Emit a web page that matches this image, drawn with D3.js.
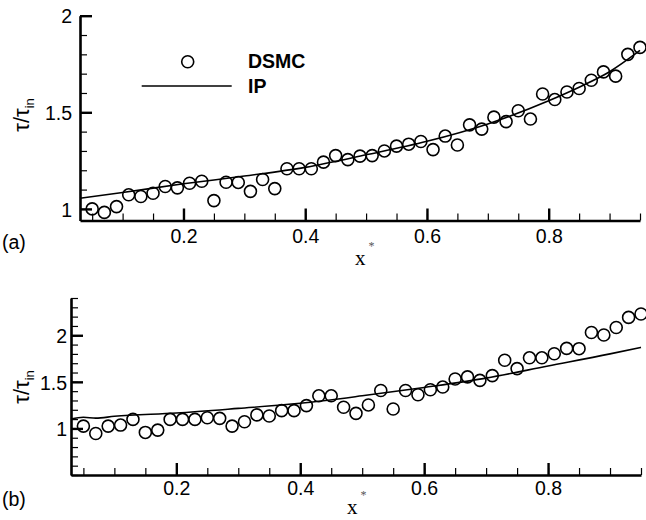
<!DOCTYPE html>
<html>
<head>
<meta charset="utf-8">
<script src="https://cdn.jsdelivr.net/npm/d3@7/dist/d3.min.js"></script>
<style>
  html, body { margin: 0; padding: 0; background: #fff; }
  svg { display: block; }
  text { fill: #000; }
</style>
</head>
<body>
<svg id="chart" width="646" height="520"></svg>
<script>
// ---------- data ----------
const xDSMC = [0.05,0.07,0.09,0.11,0.13,0.15,0.17,0.19,0.21,0.23,0.25,0.27,0.29,0.31,0.33,0.35,
  0.37,0.39,0.41,0.43,0.45,0.47,0.49,0.51,0.53,0.55,0.57,0.59,0.61,0.63,0.65,0.67,0.69,0.71,
  0.73,0.75,0.77,0.79,0.81,0.83,0.85,0.87,0.89,0.91,0.93,0.95];
const dsmcA = [1.00,0.982,1.012,1.073,1.064,1.081,1.116,1.109,1.133,1.143,1.043,1.138,1.137,1.091,1.152,1.105,
  1.208,1.208,1.208,1.242,1.276,1.255,1.273,1.276,1.300,1.325,1.335,1.349,1.307,1.377,1.331,1.435,1.413,1.475,
  1.452,1.508,1.465,1.595,1.566,1.605,1.623,1.666,1.709,1.687,1.800,1.836];
const dsmcB = [1.025,0.946,1.025,1.036,1.097,0.957,0.982,1.097,1.097,1.097,1.115,1.108,1.025,1.072,1.145,1.133,
  1.191,1.191,1.245,1.350,1.350,1.227,1.162,1.252,1.407,1.209,1.407,1.361,1.415,1.444,1.531,1.553,1.516,1.567,
  1.732,1.642,1.758,1.758,1.802,1.859,1.856,2.030,2.003,2.083,2.192,2.228];
const xIPA = [0.03,0.10,0.20,0.30,0.40,0.50,0.60,0.70,0.80,0.85,0.90,0.95];
const ipA  = [1.055,1.085,1.13,1.17,1.215,1.28,1.35,1.44,1.56,1.63,1.71,1.82];
const xIPB = [0.03,0.05,0.07,0.10,0.20,0.30,0.40,0.50,0.60,0.70,0.80,0.90,0.95];
const ipB  = [1.10,1.12,1.11,1.13,1.165,1.215,1.27,1.35,1.44,1.54,1.67,1.80,1.87];
const xMajorTicks = [0.2,0.4,0.6,0.8];
const xMinorTicks = [0.05,0.1,0.15,0.2,0.25,0.3,0.35,0.4,0.45,0.5,0.55,0.6,0.65,0.7,0.75,0.8,0.85,0.9,0.95];
const yMajorA = [1,1.5,2];
const yMinorA = [1.0,1.1,1.2,1.3,1.4,1.5,1.6,1.7,1.8,1.9,2.0];
const yMajorB = [1,1.5,2];
const yMinorB = [0.5,0.6,0.7,0.8,0.9,1.0,1.1,1.2,1.3,1.4,1.5,1.6,1.7,1.8,1.9,2.0,2.1,2.2,2.3,2.4];
const legendLabels = ["DSMC","IP"];
const panelLabels = ["(a)","(b)"];

// ---------- drawing ----------
const svg = d3.select("#chart");
const sansFont = "'Liberation Sans', Arial, Helvetica, sans-serif";

const panels = [
  { x0:80, x1:640, yTop:15.7, yBot:220.5, yDomain:[0.94,2.0], dsmc:dsmcA, ipX:xIPA, ip:ipA,
    yMajor:yMajorA, yMinor:yMinorA, yPad:8, xPad:9, ylabY:115, xlabX:355, xlabY:265,
    plabY:249, label:panelLabels[0], legend:true },
  { x0:71, x1:641, yTop:298, yBot:475, yDomain:[0.5,2.4], dsmc:dsmcB, ipX:xIPB, ip:ipB,
    yMajor:yMajorB, yMinor:yMinorB, yPad:4, xPad:6.5, ylabY:387, xlabX:347, xlabY:514,
    plabY:506, label:panelLabels[1], legend:false }
];

panels.forEach(p => {
  const x = d3.scaleLinear().domain([0.03,0.95]).range([p.x0,p.x1]);
  const y = d3.scaleLinear().domain(p.yDomain).range([p.yBot,p.yTop]);
  const g = svg.append("g");

  // minor ticks
  g.append("g").attr("transform",`translate(0,${p.yBot})`)
    .call(d3.axisBottom(x).tickValues(xMinorTicks).tickSize(-7).tickSizeOuter(0).tickFormat(""))
    .call(a => { a.select(".domain").remove(); a.selectAll("line").attr("stroke","#000").attr("stroke-width",1.2); });
  g.append("g").attr("transform",`translate(${p.x0},0)`)
    .call(d3.axisLeft(y).tickValues(p.yMinor).tickSize(-7).tickSizeOuter(0).tickFormat(""))
    .call(a => { a.select(".domain").remove(); a.selectAll("line").attr("stroke","#000").attr("stroke-width",1.2); });

  // major ticks + labels
  const xa = g.append("g").attr("transform",`translate(0,${p.yBot})`)
    .call(d3.axisBottom(x).tickValues(xMajorTicks).tickSize(-12).tickSizeOuter(0).tickPadding(p.xPad).tickFormat(d3.format(".1f")));
  xa.select(".domain").attr("stroke","#000").attr("stroke-width",2.6);
  xa.selectAll("line").attr("stroke","#000").attr("stroke-width",2.4);
  xa.selectAll("text").attr("font-family",sansFont).attr("font-size",19.5).attr("fill","#000");

  const ya = g.append("g").attr("transform",`translate(${p.x0},0)`)
    .call(d3.axisLeft(y).tickValues(p.yMajor).tickSize(-12).tickSizeOuter(0).tickPadding(p.yPad).tickFormat(d => d3.format("~g")(d)));
  ya.select(".domain").attr("stroke","#000").attr("stroke-width",2.6);
  ya.selectAll("line").attr("stroke","#000").attr("stroke-width",2.4);
  ya.selectAll("text").attr("font-family",sansFont).attr("font-size",19.5).attr("fill","#000").attr("dy","0.37em");

  // IP line
  const line = d3.line().x(d => x(d[0])).y(d => y(d[1])).curve(d3.curveMonotoneX);
  g.append("path").datum(p.ipX.map((v,i) => [v,p.ip[i]]))
    .attr("d",line).attr("fill","none").attr("stroke","#000").attr("stroke-width",1.6);

  // DSMC circles
  g.append("g").selectAll("circle").data(xDSMC.map((v,i) => [v,p.dsmc[i]])).join("circle")
    .attr("cx",d => x(d[0])).attr("cy",d => y(d[1])).attr("r",6)
    .attr("fill","none").attr("stroke","#000").attr("stroke-width",1.6);

  // y label
  const yl = g.append("text")
    .attr("transform",`translate(29,${p.ylabY}) rotate(-90)`)
    .attr("text-anchor","middle").attr("font-family",sansFont).attr("font-size",22);
  yl.append("tspan").text("τ/τ");
  yl.append("tspan").attr("font-size",13).attr("dy",5).text("in");

  // x label
  const xl = g.append("text").attr("x",p.xlabX).attr("y",p.xlabY)
    .attr("font-family","'Liberation Serif', 'Times New Roman', serif").attr("font-size",21);
  xl.append("tspan").text("x");
  xl.append("tspan").attr("font-size",12).attr("dy",-15).attr("dx",3).attr("fill","#555").text("*");

  // panel label
  g.append("text").attr("x",2).attr("y",p.plabY).attr("font-family",sansFont).attr("font-size",19.5).text(p.label);

  // legend
  if (p.legend) {
    const lg = g.append("g");
    lg.append("circle").attr("cx",187.7).attr("cy",61.7).attr("r",6)
      .attr("fill","none").attr("stroke","#000").attr("stroke-width",1.6);
    lg.append("line").attr("x1",141.7).attr("x2",231.7).attr("y1",86).attr("y2",86)
      .attr("stroke","#000").attr("stroke-width",1.6);
    lg.append("text").attr("x",248).attr("y",68).attr("font-family",sansFont).attr("font-weight","bold")
      .attr("font-size",19.5).text(legendLabels[0]);
    lg.append("text").attr("x",248).attr("y",92.5).attr("font-family",sansFont).attr("font-weight","bold")
      .attr("font-size",19.5).text(legendLabels[1]);
  }
});
</script>
</body>
</html>
